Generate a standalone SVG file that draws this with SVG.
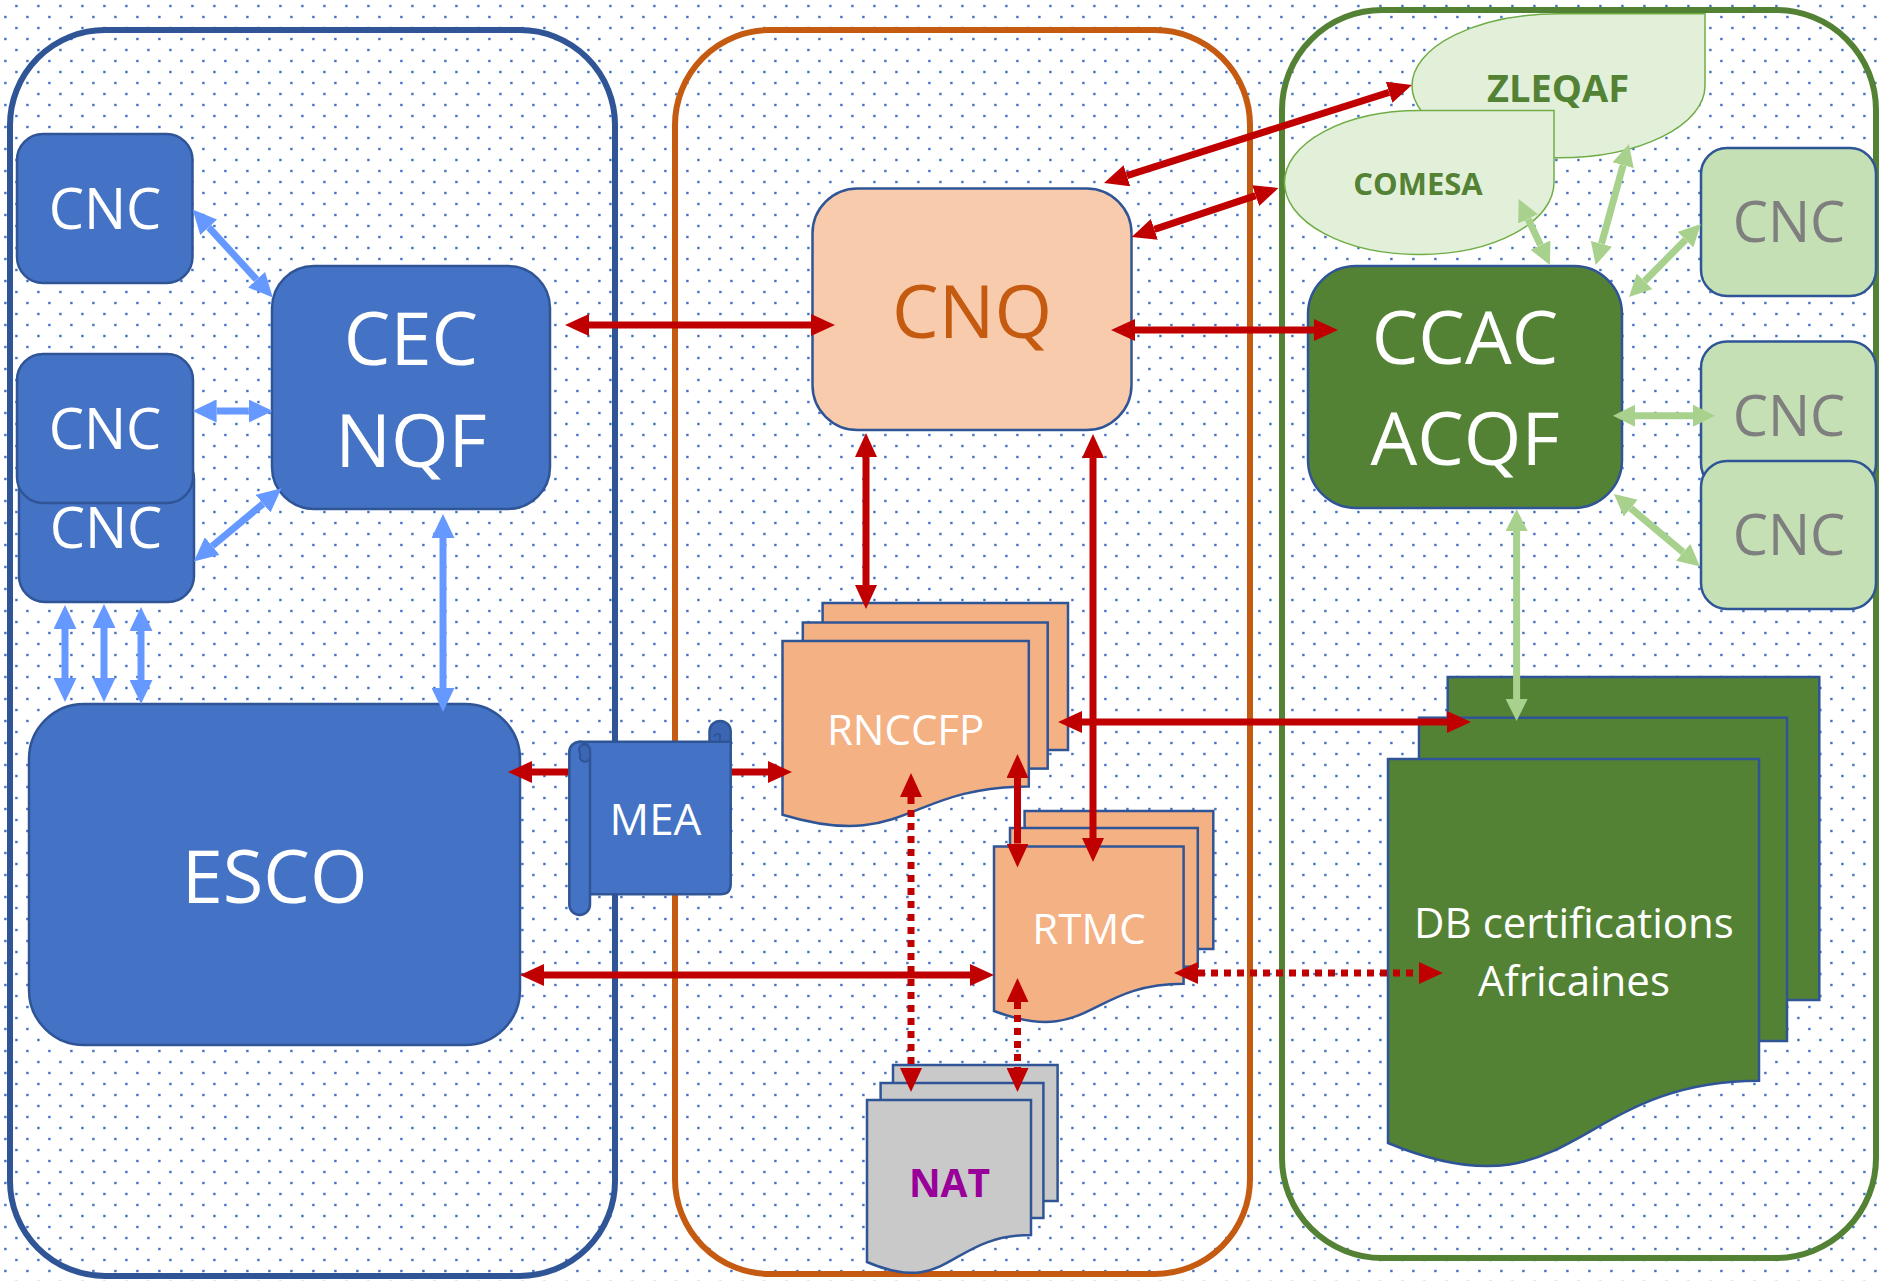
<svg xmlns="http://www.w3.org/2000/svg" width="1879" height="1281" viewBox="0 0 1879 1281">
<defs>
<pattern id="dots" width="22" height="22" patternUnits="userSpaceOnUse">
<rect x="15.2" y="4.8" width="2.4" height="2.4" fill="#4472C4"/>
<rect x="4.2" y="15.8" width="2.4" height="2.4" fill="#4472C4"/>
</pattern>
<marker id="mr" markerUnits="userSpaceOnUse" markerWidth="24" markerHeight="22" viewBox="0 0 24 22" refX="0" refY="11" orient="auto-start-reverse"><path d="M0,0 L24,11 L0,22 Z" fill="#C00000"/></marker>
<marker id="mb" markerUnits="userSpaceOnUse" markerWidth="24" markerHeight="23" viewBox="0 0 24 23" refX="0" refY="11.5" orient="auto-start-reverse"><path d="M0,0 L24,11.5 L0,23 Z" fill="#6699FF"/></marker>
<marker id="mg" markerUnits="userSpaceOnUse" markerWidth="22" markerHeight="22" viewBox="0 0 22 22" refX="0" refY="11" orient="auto-start-reverse"><path d="M0,0 L22,11 L0,22 Z" fill="#A9D18E"/></marker>
</defs>
<style>
.cont{fill:none;stroke-width:6}
.nb{fill:#4472C4;stroke:#2F5597;stroke-width:2.5}
.no{fill:#F8CBAD;stroke:#2F5597;stroke-width:2.5}
.nd{fill:#F4B183;stroke:#2F5597;stroke-width:2.5}
.ng{fill:#548235;stroke:#2F5597;stroke-width:2.5}
.nl{fill:#C5E0B4;stroke:#2F5597;stroke-width:2.5}
.ngr{fill:#C9C9C9;stroke:#2F5597;stroke-width:2.5}
.tear{fill:#E2F0D9;stroke:#70AD47;stroke-width:1.5}
text{font-family:"Open Sans","Noto Sans",sans-serif;text-anchor:middle}
.w{fill:#FFFFFF}
.s56{font-size:56px}
.s74{font-size:74px}
.s42{font-size:42px}
.gt{fill:#7F7F7F}
.bt{font-weight:bold;fill:#548235}
.r,.rd,.b,.g{fill:none}
.r{stroke:#C00000;stroke-width:7;marker-start:url(#mr);marker-end:url(#mr)}
.rd{stroke:#C00000;stroke-width:7;stroke-dasharray:7 6;marker-start:url(#mr);marker-end:url(#mr)}
.b{stroke:#6699FF;stroke-width:7;marker-start:url(#mb);marker-end:url(#mb)}
.g{stroke:#A9D18E;stroke-width:7;marker-start:url(#mg);marker-end:url(#mg)}
</style>
<rect width="1879" height="1281" fill="#FFFFFF"/>
<rect width="1879" height="1281" fill="url(#dots)"/>

<g id="containers">
<rect class="cont" x="10" y="30" width="605" height="1246" rx="95" stroke="#2F5597"/>
<rect class="cont" x="675" y="30" width="575" height="1244" rx="95" stroke="#C55A11"/>
<rect class="cont" x="1282" y="10" width="594" height="1248" rx="100" stroke="#548235"/>
</g>

<g id="cnc-l1"><rect class="nb" x="17" y="134" width="175.5" height="149" rx="26"/><text class="w s56" x="105" y="228.5">CNC</text></g>
<g id="cnc-l3"><rect class="nb" x="19" y="453" width="175" height="149" rx="26"/><text class="w s56" x="106" y="547.6">CNC</text></g>
<g id="cnc-l2"><rect class="nb" x="17" y="354" width="176" height="149" rx="26"/><text class="w s56" x="105" y="448.8">CNC</text></g>
<g id="cec"><rect class="nb" x="272" y="266" width="278" height="243" rx="42"/><text class="w s74" x="411" y="364.6">CEC</text><text class="w s74" x="411" y="466.6">NQF</text></g>
<g id="esco"><rect class="nb" x="29" y="704" width="491" height="341" rx="55"/><text class="w s74" x="274.6" y="903.3">ESCO</text></g>

<g id="cnq"><rect class="no" x="812.5" y="188.5" width="319" height="241.5" rx="45"/><text class="s74" x="972" y="338" fill="#C55A11">CNQ</text></g>
<g id="rnccfp">
<rect class="nd" x="822.6" y="603" width="245.4" height="147"/>
<rect class="nd" x="802.8" y="622.5" width="244.9" height="146.1"/>
<path class="nd" d="M782.5,641 H1028.8 V786.5 C905.6,786.5 905.6,851.8 782.5,814.7 Z"/>
<text class="w s42" x="905.6" y="745">RNCCFP</text>
</g>
<g id="rtmc">
<rect class="nd" x="1024.6" y="811" width="188.7" height="138"/>
<rect class="nd" x="1010" y="828" width="187.8" height="138.7"/>
<path class="nd" d="M994,846.4 H1183.6 V983.7 C1088.8,983.7 1088.8,1046.9 994,1011 Z"/>
<text class="w s42" x="1089" y="944">RTMC</text>
</g>
<g id="nat">
<rect class="ngr" x="893" y="1065" width="164.6" height="136"/>
<rect class="ngr" x="880.6" y="1083" width="162.8" height="135"/>
<path class="ngr" d="M867,1100 H1031 V1235 C949,1235 949,1297.5 867,1262 Z"/>
<text x="949.5" y="1197" font-size="39" font-weight="bold" fill="#990099">NAT</text>
</g>

<g id="zleqaf"><path class="tear" d="M1558.5,13.8 L1705,13.8 L1705,86 A146.5,72 0 1 1 1558.5,13.8 Z"/><text class="bt" x="1558" y="102" font-size="38">ZLEQAF</text></g>
<g id="comesa"><path class="tear" d="M1419.25,110.5 L1554,110.5 L1554,182.5 A134.75,72 0 1 1 1419.25,110.5 Z"/><text class="bt" x="1418" y="195.4" font-size="31">COMESA</text></g>
<g id="ccac"><rect class="ng" x="1308" y="266" width="314" height="242" rx="48"/><text class="w s74" x="1465" y="364">CCAC</text><text class="w s74" x="1465" y="465">ACQF</text></g>
<g id="cnc-r1"><rect class="nl" x="1701" y="148" width="175" height="148" rx="26"/><text class="gt s56" x="1789" y="241.6">CNC</text></g>
<g id="cnc-r2"><rect class="nl" x="1701" y="341.5" width="175" height="148" rx="26"/><text class="gt s56" x="1789" y="435.5">CNC</text></g>
<g id="cnc-r3"><rect class="nl" x="1701" y="461" width="175" height="148" rx="26"/><text class="gt s56" x="1789" y="554.7">CNC</text></g>
<g id="db">
<rect class="ng" x="1447.7" y="677" width="371.6" height="323"/>
<rect class="ng" x="1419" y="717.7" width="368" height="323.3"/>
<path class="ng" d="M1388,759 H1759 V1080.7 C1573.5,1080.7 1573.5,1220 1388,1143 Z"/>
<text class="w s42" x="1574" y="938">DB certifications</text>
<text class="w s42" x="1574" y="996">Africaines</text>
</g>

<g id="connectors">
<path class="b" d="M208.8,227.3 L256.6,279.7"/>
<path class="b" d="M216.6,411 H248.8"/>
<path class="b" d="M212.2,546.1 L263.1,503.7"/>
<path class="b" d="M443,538 V688"/>
<path class="b" d="M65,629 V678"/>
<path class="b" d="M104,628 V678"/>
<path class="b" d="M141,631 V680"/>
<path class="r" d="M589,325 H811"/>
<path class="r" d="M1135,330 H1314"/>
<path class="r" d="M1126.9,175.7 L1389.1,92.3"/>
<path class="r" d="M1154.4,229.4 L1255.7,195.6"/>
<path class="r" d="M866,457 V585"/>
<path class="r" d="M1093,458 V838"/>
<path class="r" d="M532,772 H768"/>
<path class="r" d="M544,975 H970"/>
<path class="r" d="M1082,722 H1447"/>
<path class="r" d="M1017.5,778 V843.5"/>
<path class="rd" d="M911,797 V1068"/>
<path class="rd" d="M1017.5,1002 V1068"/>
<path class="rd" d="M1198,973 H1419"/>
<path class="g" d="M1528.1,218.9 L1540.5,245.1"/>
<path class="g" d="M1623.1,165.2 L1601.5,243.8"/>
<path class="g" d="M1685.5,239.7 L1644.5,281.3"/>
<path class="g" d="M1635,415.7 H1693"/>
<path class="g" d="M1630.8,508.2 L1683.2,552.3"/>
<path class="g" d="M1516.6,531 V699"/>
</g>

<g id="mea">
<path class="nb" d="M580,741.7 H730.7 V884 Q730.7,894.3 720.4,894.3 H585 Z"/>
<path d="M709.5,741.7 V731.5 A10.6,10.6 0 0 1 730.7,731.5 V741.7 Z" fill="#3B66B3" stroke="#2F5597" stroke-width="2.5"/>
<path d="M720,741.7 V735 A3.5,3.5 0 0 0 714,737" fill="none" stroke="#2F5597" stroke-width="2"/>
<path class="nb" d="M569.3,752 A10.35,10.35 0 0 1 590,752 V904.6 A10.35,10.35 0 0 1 569.3,904.6 Z"/>
<path d="M579,749 A5.5,5.5 0 0 1 590,751 V758 A5,5 0 0 1 580,755 Z" fill="#3B66B3" stroke="#2F5597" stroke-width="2"/>
<text class="w" x="655.5" y="835" font-size="44">MEA</text>
</g>
</svg>
